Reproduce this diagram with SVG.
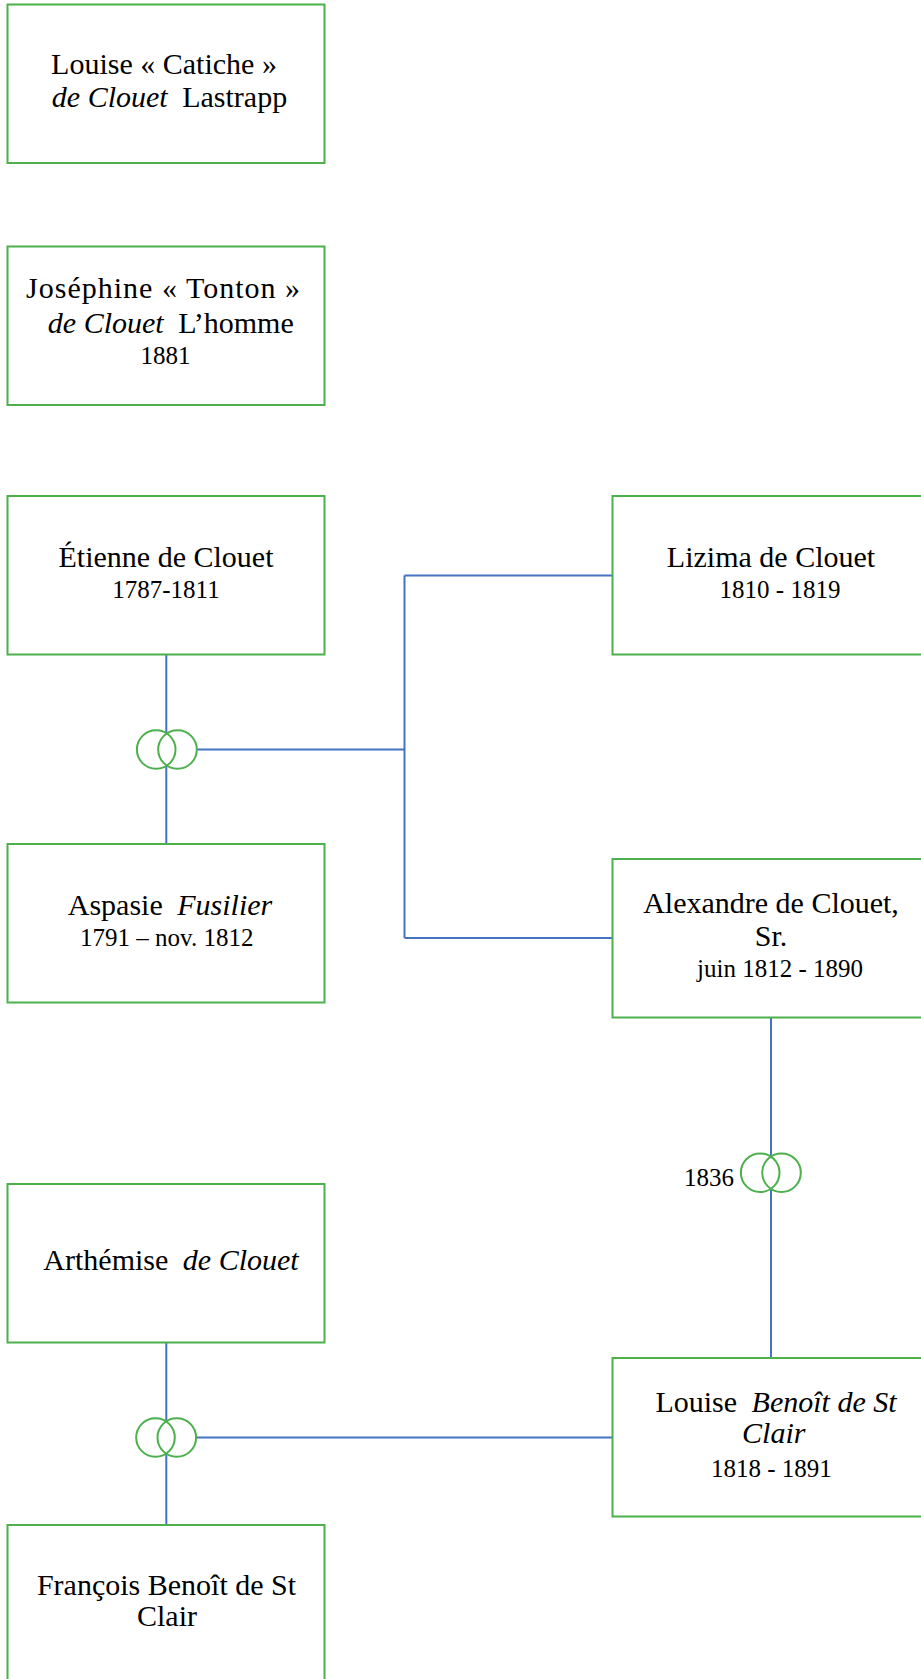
<svg xmlns="http://www.w3.org/2000/svg" width="921" height="1679" viewBox="0 0 921 1679">
<style>
.box{fill:#ffffff;stroke:#4cb04c;stroke-width:2}
.ln{fill:none;stroke:#4472c4;stroke-width:2}
.ring{fill:none;stroke:#4cb04c;stroke-width:2}
.mask{fill:#ffffff;stroke:none}
text{font-family:"Liberation Serif","DejaVu Serif",serif;fill:#000000;text-anchor:middle}
.nm{font-size:30px}
.dt{font-size:25px}
.it{font-style:italic}
</style>
<rect width="921" height="1679" fill="#ffffff"/>
<g id="connectors">
<path class="ln" d="M166.3,654.5 V843.9"/>
<path class="ln" d="M177,749.5 H404.5"/>
<path class="ln" d="M404.5,575.5 V938"/>
<path class="ln" d="M404.5,575.5 H612.5"/>
<path class="ln" d="M404.5,938 H612.5"/>
<path class="ln" d="M771,1017.5 V1358"/>
<path class="ln" d="M166.3,1343 V1525"/>
<path class="ln" d="M177,1437.5 H612.5"/>
<g id="marriage1">
<circle class="mask" cx="156.2" cy="749.5" r="19.3"/><circle class="mask" cx="177.5" cy="749.5" r="19.3"/>
<circle class="ring" cx="156.2" cy="749.5" r="19.3"/><circle class="ring" cx="177.5" cy="749.5" r="19.3"/>
</g>
<g id="marriage2">
<circle class="mask" cx="760.2" cy="1172.7" r="19.3"/><circle class="mask" cx="781.5" cy="1172.7" r="19.3"/>
<circle class="ring" cx="760.2" cy="1172.7" r="19.3"/><circle class="ring" cx="781.5" cy="1172.7" r="19.3"/>
<text class="dt" x="734" y="1186" style="text-anchor:end">1836</text>
</g>
<g id="marriage3">
<circle class="mask" cx="155.5" cy="1437.5" r="19.3"/><circle class="mask" cx="176.8" cy="1437.5" r="19.3"/>
<circle class="ring" cx="155.5" cy="1437.5" r="19.3"/><circle class="ring" cx="176.8" cy="1437.5" r="19.3"/>
</g>
</g>
<g id="louise-catiche">
<rect class="box" x="7.5" y="4.5" width="317" height="158.5"/>
<text class="nm" x="164" y="74">Louise « Catiche »</text>
<text class="nm" x="169.5" y="107"><tspan class="it">de Clouet</tspan><tspan dx="7"> Lastrapp</tspan></text>
</g>
<g id="josephine-tonton">
<rect class="box" x="7.5" y="246.5" width="317" height="158.5"/>
<text class="nm" x="163" y="298" textLength="274" lengthAdjust="spacing">Joséphine « Tonton »</text>
<text class="nm" x="170.8" y="332.5"><tspan class="it">de Clouet</tspan><tspan dx="7"> L’homme</tspan></text>
<text class="dt" x="165.5" y="364">1881</text>
</g>
<g id="etienne">
<rect class="box" x="7.5" y="496" width="317" height="158.5"/>
<text class="nm" x="166" y="567">Étienne de Clouet</text>
<text class="dt" x="166" y="598">1787-1811</text>
</g>
<g id="aspasie">
<rect class="box" x="7.5" y="844" width="317" height="158.5"/>
<text class="nm" x="170" y="915">Aspasie<tspan class="it" dx="7"> Fusilier</tspan></text>
<text class="dt" x="166.7" y="946">1791 – nov. 1812</text>
</g>
<g id="lizima">
<rect class="box" x="612.5" y="496" width="317" height="158.5"/>
<text class="nm" x="771" y="567">Lizima de Clouet</text>
<text class="dt" x="780" y="598">1810 - 1819</text>
</g>
<g id="alexandre">
<rect class="box" x="612.5" y="859" width="317" height="158.5"/>
<text class="nm" x="771" y="913">Alexandre de Clouet,</text>
<text class="nm" x="771" y="946">Sr.</text>
<text class="dt" x="780" y="977">juin 1812 - 1890</text>
</g>
<g id="arthemise">
<rect class="box" x="7.5" y="1184" width="317" height="158.5"/>
<text class="nm" x="171" y="1270">Arthémise<tspan class="it" dx="7"> de Clouet</tspan></text>
</g>
<g id="louise-benoit">
<rect class="box" x="612.5" y="1358" width="317" height="158.5"/>
<text class="nm" x="776" y="1412">Louise<tspan class="it" dx="7"> Benoît de St</tspan></text>
<text class="nm it" x="773.8" y="1443">Clair</text>
<text class="dt" x="771.3" y="1477">1818 - 1891</text>
</g>
<g id="francois">
<rect class="box" x="7.5" y="1525" width="317" height="158.5"/>
<text class="nm" x="166.5" y="1595">François Benoît de St</text>
<text class="nm" x="167" y="1626">Clair</text>
</g>
</svg>
